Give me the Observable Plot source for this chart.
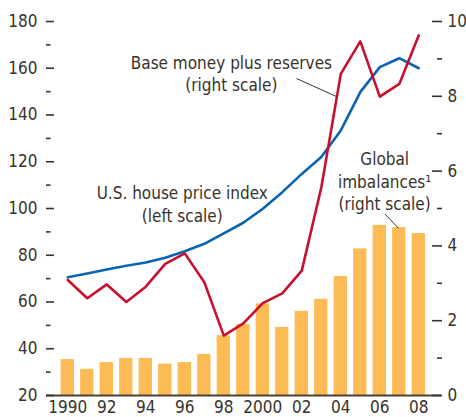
<!DOCTYPE html>
<html><head><meta charset="utf-8">
<script src="https://cdn.jsdelivr.net/npm/d3@7"></script>
<script src="https://cdn.jsdelivr.net/npm/@observablehq/plot@0.6"></script>
<style>
body{margin:0;background:#fff;}
#chart svg{display:block;}
</style>
</head><body><div id="chart"></div>
<script>
const years = [1990,1991,1992,1993,1994,1995,1996,1997,1998,1999,2000,2001,2002,2003,2004,2005,2006,2007,2008];
// U.S. house price index (left scale)
const housePrice = [70.6,72.2,73.9,75.5,76.9,78.9,81.7,84.9,89.4,93.9,99.9,107.0,114.8,122.0,133.4,149.8,160.5,164.3,160.0];
// Base money plus reserves (right scale)
const baseMoney = [3.09,2.60,2.97,2.50,2.91,3.52,3.80,3.03,1.60,1.93,2.47,2.73,3.34,5.56,8.60,9.47,7.99,8.33,9.63];
// Global imbalances (right scale)
const imbalances = [0.96,0.70,0.88,0.99,0.99,0.84,0.88,1.10,1.60,1.90,2.45,1.82,2.25,2.57,3.18,3.92,4.55,4.49,4.33];

const leftTicks = [20,40,60,80,100,120,140,160,180];
const leftMinor = [30,50,70,90,110,130,150,170];
const rightTicks = [0,2,4,6,8,10];
const rightMinor = [1,3,5,7,9];
const xTickYears = [1990,1992,1994,1996,1998,2000,2002,2004,2006,2008];
const xTickLabels = ["1990","92","94","96","98","2000","02","04","06","08"];

// right scale (0–10) shares the frame with left scale (20–180)
const toLeft = r => 20 + 16 * r;
const fromLeft = l => (l - 20) / 16;

const rows = years.map((year, i) => ({year, house: housePrice[i], base: toLeft(baseMoney[i]), imb: toLeft(imbalances[i])}));
const barHalf = 0.341;

const ink = "#38322a";
const font = "'Liberation Sans Narrow','DejaVu Sans Condensed',sans-serif";
const fs = 17;

const chart = Plot.plot({
  width: 466,
  height: 417,
  marginLeft: 46,
  marginRight: 25,
  marginTop: 21,
  marginBottom: 22,
  style: {fontFamily: font, fontSize: fs + "px", color: ink, background: "#fff"},
  x: {type: "linear", domain: [1988.908, 2009.164]},
  y: {domain: [20, 180]},
  marks: [
    Plot.rect(rows, {x1: d => d.year - barHalf, x2: d => d.year + barHalf, y1: 20, y2: "imb", fill: "#fdbb55"}),
    Plot.line(rows, {x: "year", y: "house", stroke: "#0a64b2", strokeWidth: 2.6}),
    Plot.line(rows, {x: "year", y: "base", stroke: "#c8102e", strokeWidth: 2.6}),
    Plot.ruleY([20], {stroke: "#4a4234", strokeWidth: 2}),
    // left axis
    Plot.axisY({anchor: "left", ticks: leftTicks, tickSize: -8, tickPadding: 17, strokeWidth: 1.6, label: null, fontSize: fs}),
    Plot.axisY({anchor: "left", ticks: leftMinor, tickSize: -4.5, tickFormat: () => "", strokeWidth: 1.6, label: null}),
    // right axis
    Plot.axisY({anchor: "right", ticks: rightTicks.map(toLeft), tickFormat: d => String(fromLeft(d)), tickSize: -10, tickPadding: 16, strokeWidth: 1.6, label: null, fontSize: fs}),
    Plot.axisY({anchor: "right", ticks: rightMinor.map(toLeft), tickSize: -5, tickFormat: () => "", strokeWidth: 1.6, label: null}),
    // bottom axis
    Plot.axisX({anchor: "bottom", ticks: xTickYears, tickFormat: d => xTickLabels[xTickYears.indexOf(d)], tickSize: 0, tickPadding: 5, label: null, fontSize: fs}),
    // annotations
    Plot.text(["Base money plus reserves\n(right scale)"], {x: 1998.39, y: 166.6, text: d => d, lineAnchor: "top", textAnchor: "middle", lineHeight: 1.3, fontSize: fs, fill: ink}),
    Plot.link([0], {x1: 2001.73, y1: 155.6, x2: 2003.78, y2: 147.9, stroke: ink, strokeWidth: 1}),
    Plot.text(["U.S. house price index\n(left scale)"], {x: 1995.87, y: 111.0, text: d => d, lineAnchor: "top", textAnchor: "middle", lineHeight: 1.35, fontSize: fs, fill: ink}),
    Plot.text(["Global\nimbalances¹\n(right scale)"], {x: 2006.25, y: 125.3, text: d => d, lineAnchor: "top", textAnchor: "middle", lineHeight: 1.32, fontSize: fs, fill: ink}),
    Plot.link([0], {x1: 2006.26, y1: 97.7, x2: 2006.96, y2: 91.5, stroke: ink, strokeWidth: 1})
  ]
});
document.getElementById("chart").appendChild(chart);
</script>
</body></html>
